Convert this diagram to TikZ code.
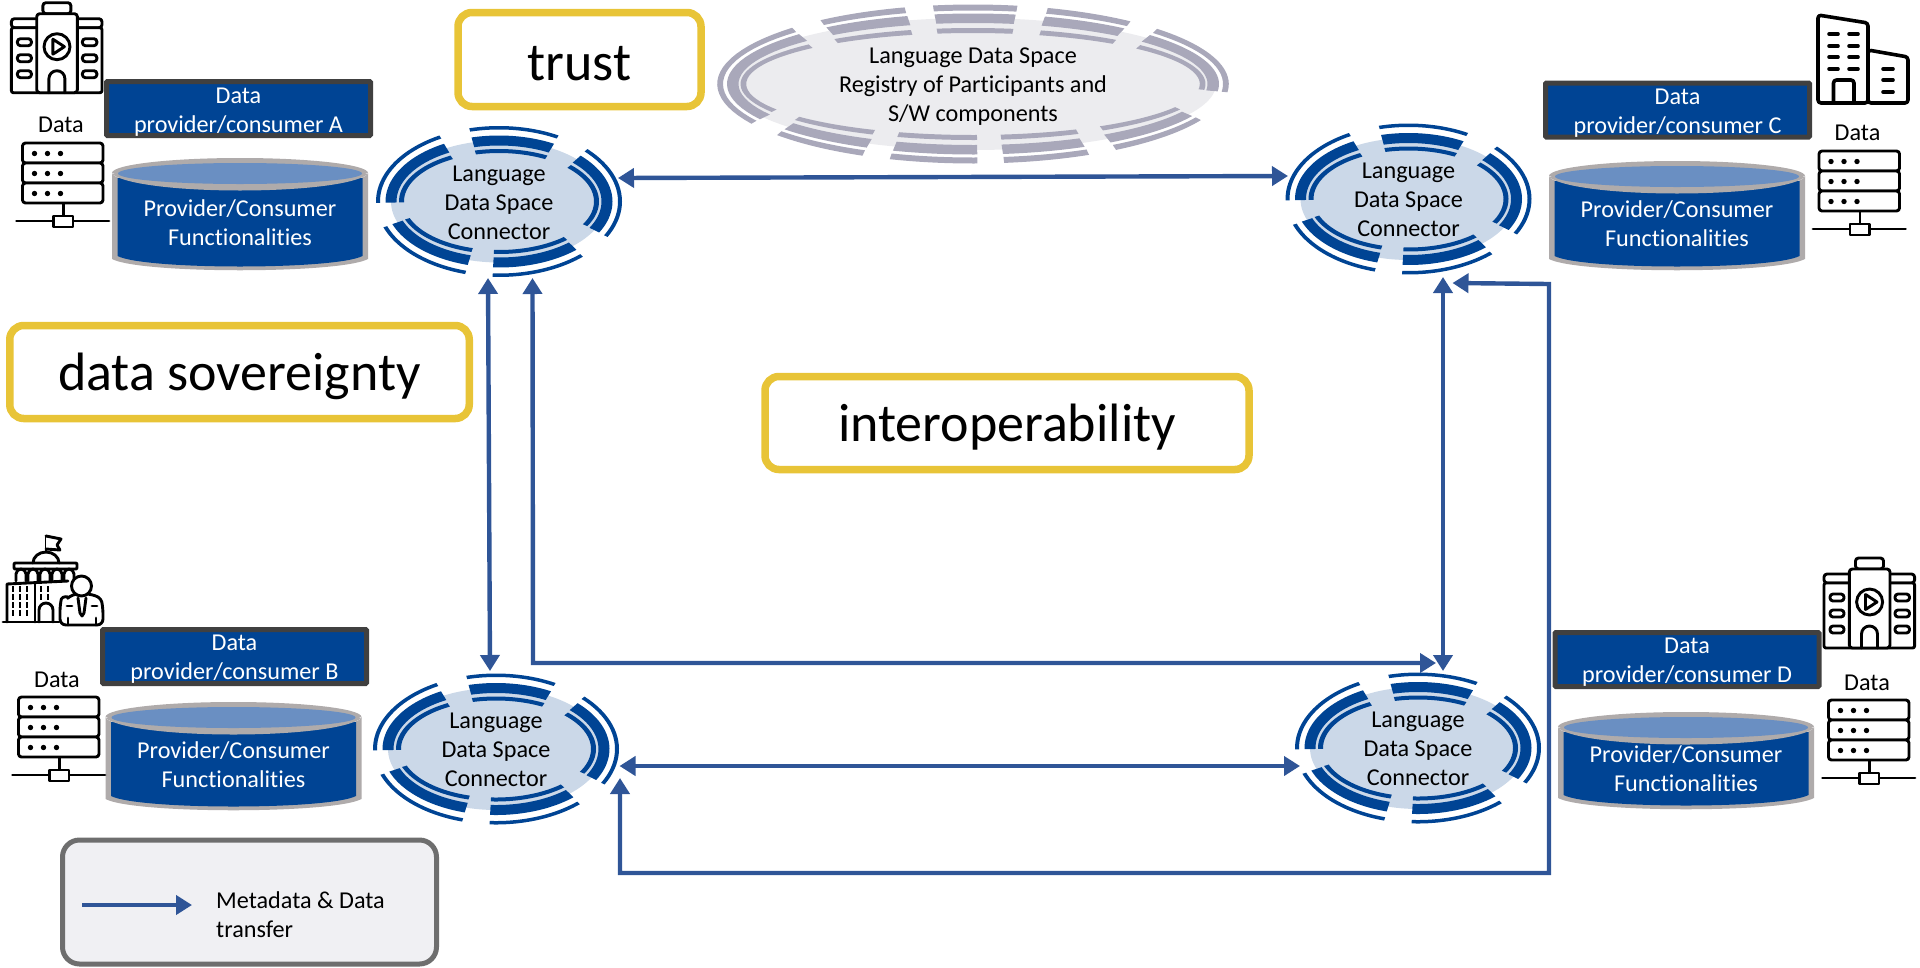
\documentclass[tikz,border=0pt]{standalone}
\usepackage{fontspec}
\setmainfont[Ligatures={NoCommon}]{Carlito}
\usetikzlibrary{arrows.meta,shapes.geometric}
\definecolor{bluedark}{HTML}{004494}
\definecolor{blueoval}{HTML}{CBD8E8}
\definecolor{greyoval}{HTML}{ECECEF}
\definecolor{greyring}{HTML}{A9A8BA}
\definecolor{arrowblue}{HTML}{2F5597}
\definecolor{yell}{HTML}{E8C437}
\definecolor{cylgrey}{HTML}{AFABAB}
\definecolor{cyltop}{HTML}{6A8FC2}
\definecolor{boxedge}{HTML}{404040}
\definecolor{legfill}{HTML}{F0F0F3}
\definecolor{legedge}{HTML}{6E6E6E}
\tikzset{
  labeltxt/.style={font=\fontsize{24.2}{29}\selectfont,align=center,inner sep=0pt,text=black},
  whitetxt/.style={labeltxt,text=white},
  bigbox/.style={draw=yell,line width=7.5pt,rounded corners=14pt,fill=white,font=\fontsize{54}{60}\selectfont,inner sep=0pt,text depth=0pt},
  partbox/.style={draw=boxedge,line width=5pt,fill=bluedark,rounded corners=1pt,minimum width=264pt,minimum height=54pt,inner sep=0pt},
  flow/.style={draw=arrowblue,line width=4.4pt,-{Triangle[length=16pt,width=19pt]}},
  flowboth/.style={draw=arrowblue,line width=4.4pt,{Triangle[length=16pt,width=19pt]}-{Triangle[length=16pt,width=19pt]}},
  icon/.style={draw=black,line width=2.9pt,line join=round,fill=white},
  iconline/.style={draw=black,line width=2.9pt,line cap=round,line join=round},
}
% one ring piece between two ellipses
\newcommand\ringpc[6]{\fill plot[domain=#5:#6,samples=24] ({#1*cos(\x)},{-#2*sin(\x)}) -- plot[domain=#6:#5,samples=24] ({#3*cos(\x)},{-#4*sin(\x)}) -- cycle;}
\newcommand\connseg[2]{%
  \ringpc{123}{75.5}{119}{72}{#1}{#2}
  \ringpc{113.5}{66}{102.5}{56}{#1}{#2}
  \ringpc{100}{52.5}{95}{48.5}{#1}{#2}}
\newcommand\regseg[2]{%
  \ringpc{255.8}{79.5}{250}{73.5}{#1}{#2}
  \ringpc{246}{70.5}{234.5}{61}{#1}{#2}
  \ringpc{232.5}{56}{226.8}{51}{#1}{#2}}
% connector: name, cx, cy
\newcommand\connector[3]{%
  \node[ellipse,fill=blueoval,minimum width=216pt,minimum height=122pt,inner sep=0pt] (#1) at (#2,#3) {};
  \begin{scope}[shift={(#2,#3)},fill=bluedark]
    \connseg{119}{181}\connseg{61}{104}\connseg{-28}{44}\connseg{-93}{-47}\connseg{-160}{-106}
  \end{scope}
  \node[labeltxt] (#1t) at (#2,#3+1) {Language\\Data Space\\Connector};}
% cylinder: name, cx, top, bottom, text y
\newcommand\cyl[5]{%
  \fill[cylgrey] (#2-128,#3+15) arc[start angle=180,end angle=540,x radius=128pt,y radius=15pt]
     -- (#2+128,#3+15) -- (#2+128,#4-14) .. controls (#2+100,#4+1) and (#2-100,#4+1) .. (#2-128,#4-14) -- cycle;
  \fill[bluedark] (#2-122.5,#3+20) -- (#2+122.5,#3+20) -- (#2+122.5,#4-17) .. controls (#2+95,#4-3) and (#2-95,#4-3) .. (#2-122.5,#4-17) -- cycle;
  \fill[cylgrey] (#2-128,#3+16) .. controls (#2-100,#3+38) and (#2+100,#3+38) .. (#2+128,#3+16) -- (#2+122,#3+14) -- (#2-122,#3+14) -- cycle;
  \fill[cyltop] (#2,#3+15.5) ellipse[x radius=122pt,y radius=10.5pt];
  \node[whitetxt] (#1) at (#2,#5) {Provider/Consumer\\Functionalities};}
% server: name, left, top, label y
\newcommand\server[4]{%
  \node[labeltxt] (#1) at (#2+38.5,#4) {Data};
  \begin{scope}[shift={(#2,#3)}]
    \draw[iconline] (41,60) -- (41,74);
    \draw[iconline] (-6,78) -- (86.5,78);
    \foreach \r in {0,20,40}{
      \draw[icon,rounded corners=3pt] (0,\r) rectangle (80.5,\r+20);
      \foreach \d in {12,25,38}{\fill[black] (\d,\r+10.5) circle[radius=2.7pt];}
    }
    \draw[icon] (31,73) rectangle (50.5,84);
  \end{scope}}
% hospital-like building: left, top
\newcommand\buildingA[2]{%
  \begin{scope}[shift={(#1,#2)}]
    \draw[icon,rounded corners=3pt] (31.5,0) rectangle (59.5,11);
    \draw[icon,rounded corners=3pt] (0,16) rectangle (90.6,25);
    \draw[icon,rounded corners=2pt] (0,25) rectangle (90.6,90);
    \draw[icon,rounded corners=3pt] (25.3,11) rectangle (66,90);
    \foreach \y in {36,52,68}{
      \draw[iconline,rounded corners=3pt] (6,\y) rectangle (20,\y+7);
      \draw[iconline,rounded corners=3pt] (71,\y) rectangle (85.5,\y+7);}
    \draw[iconline] (45.6,44) circle[radius=13pt];
    \draw[iconline] (41.5,36.5) -- (53,44) -- (41.5,51.5) -- cycle;
    \draw[iconline] (37.5,90) -- (37.5,76) arc[start angle=180,end angle=0,radius=8pt] -- (53.5,90);
  \end{scope}}
\begin{document}
\begin{tikzpicture}[x=1pt,y=-1pt]
\useasboundingbox (0,0) rectangle (1920,967);

% registry
\node[ellipse,fill=greyoval,minimum width=486pt,minimum height=132pt,inner sep=0pt] (reg) at (973,84) {};
\begin{scope}[shift={(973,84)},fill=greyring]
  \regseg{135}{210}\regseg{105.5}{126.6}\regseg{80}{99}\regseg{52}{73}\regseg{-6}{44}
  \regseg{-56}{-27}\regseg{-83}{-63}\regseg{-109}{-89}\regseg{-140}{-115.6}
\end{scope}
\node[labeltxt] (regt) at (973,87) {Language Data Space\\Registry of Participants and\\S/W components};

% connectors
\connector{cA}{499}{201.5}
\connector{cC}{1408.5}{199}
\connector{cB}{496}{749}
\connector{cD}{1418}{748}

% yellow boxes
\node[bigbox,text height=41pt,minimum width=243pt,minimum height=94pt] (trust) at (579.5,59.5) {trust};
\node[bigbox,text height=37pt,minimum width=459.5pt,minimum height=93pt] (sov) at (239.5,372) {data sovereignty};
\node[bigbox,text height=37pt,minimum width=484pt,minimum height=93pt] (interop) at (1007,423) {interoperability};

% participant boxes
\node[partbox] (pA) at (238.5,108.5) {};
\node[whitetxt] (pAt) at (238.5,112) {Data\\provider/consumer A};
\node[partbox] (pC) at (1677.5,110) {};
\node[whitetxt] (pCt) at (1677.5,113) {Data\\provider/consumer C};
\node[partbox] (pB) at (234.5,656.5) {};
\node[whitetxt] (pBt) at (234.5,659) {Data\\provider/consumer B};
\node[partbox] (pD) at (1687,659.5) {};
\node[whitetxt] (pDt) at (1687,662.5) {Data\\provider/consumer D};

% cylinders
\cyl{fA}{240}{158}{273}{223}
\cyl{fC}{1677}{161}{273}{224}
\cyl{fB}{233.5}{702}{813}{765}
\cyl{fD}{1686}{712}{812}{769}

% servers
\server{dA}{22.5}{143}{125}
\server{dC}{1819}{151}{133}
\server{dB}{18.5}{697}{680}
\server{dD}{1828.5}{700}{683}

% icons
\buildingA{11.4}{2.7}
\buildingA{1824}{558}
% office
\begin{scope}[shift={(1818,15)},icon/.append style={line width=3.6pt},iconline/.append style={line width=3.6pt}]
  \draw[icon,rounded corners=3pt] (50,35) -- (90,42) -- (90,88) -- (50,88) -- cycle;
  \draw[icon,rounded corners=3pt] (0,0) -- (50,8) -- (50,88) -- (0,88) -- cycle;
  \foreach \y in {19,31,42,54}{
    \draw[iconline] (11,\y) -- (20,\y);
    \draw[iconline] (31,\y) -- (40,\y);}
  \foreach \y in {54,65,77}{\draw[iconline] (65,\y) -- (75,\y);}
  \draw[iconline,rounded corners=3pt] (15.5,88) -- (15.5,65) -- (36,65) -- (36,88);
\end{scope}
% government building and person
\begin{scope}[shift={(0,520)}]
  \draw[iconline] (46,32) -- (46,16);
  \draw[iconline,fill=white] (46,16) -- (61,19) -- (57,25) -- (60,30) -- (46,29);
  \draw[iconline] (33,43) arc[start angle=180,end angle=0,x radius=13pt,y radius=11pt];
  \draw[iconline,rounded corners=1pt] (14,43) rectangle (77,49);
  \foreach \x in {19,31,43,55,67}{
    \draw[iconline] (\x-3,61) -- (\x-3,54) arc[start angle=180,end angle=0,radius=5pt] -- (\x+7,61);}
  \draw[iconline] (7,102) -- (7,64) -- (68,61);
  \draw[iconline] (35,64) -- (35,102);
  \draw[iconline] (3,102) -- (59,102);
  \foreach \x in {13,20,27,41,48}{\foreach \y in {69,77,85,93}{
    \ifnum\x>40 \ifnum\y>80 \else \fill[black] (\x-1,\y-3) rectangle (\x+1,\y+3); \fi
    \else \fill[black] (\x-1,\y-3) rectangle (\x+1,\y+3); \fi}}
  \draw[iconline] (39,102) -- (39,90) arc[start angle=180,end angle=0,radius=7pt] -- (53,102);
  \draw[icon,rounded corners=6pt] (60,105) -- (60,85) .. controls (62,76) and (70,76) .. (72,74) -- (92,74) .. controls (96,76) and (101,78) .. (103,88) -- (103,105) -- cycle;
  \draw[icon] (81.5,66) circle[radius=10pt];
  \draw[iconline] (78,78) -- (80,93) -- (82,96) -- (84,93) -- (86,78);
  \draw[iconline] (67,86) -- (72,86);
  \draw[iconline] (92,86) -- (97,86);
  \draw[iconline] (68,98) -- (68,105);
  \draw[iconline] (96,98) -- (96,105);
\end{scope}

% legend
\node[draw=legedge,line width=5pt,fill=legfill,rounded corners=17pt,minimum width=374pt,minimum height=124pt,inner sep=0pt] (legend) at (249.5,902) {};
\coordinate (legS) at (82,905);
\coordinate (legE) at (192,905);
\draw[flow] (legS) -- (legE);
\node[labeltxt,align=left,anchor=west] (legt) at (216,915) {Metadata \& Data\\transfer};

% connectors between nodes
\draw[flowboth] ([shift={(119,-23.5)}]cA.center) -- ([shift={(-120.5,-23)}]cC.center);
\draw[flowboth] ([shift={(-11,76.5)}]cA.center) -- ([shift={(-6,-78)}]cB.center);
\draw[flowboth] ([shift={(33.5,76.5)}]cA.center) -- (533,663) -- ([shift={(18,-85)}]cD.center);
\draw[flowboth] ([shift={(34.5,78)}]cC.center) -- ([shift={(25,-77)}]cD.center);
\draw[flowboth] ([shift={(44,84)}]cC.center) -- (1549,284) -- (1549,873) -- (620,873) -- ([shift={(124,29)}]cB.center);
\draw[flowboth] ([shift={(123.5,17)}]cB.center) -- ([shift={(-118,18)}]cD.center);
\end{tikzpicture}
\end{document}
